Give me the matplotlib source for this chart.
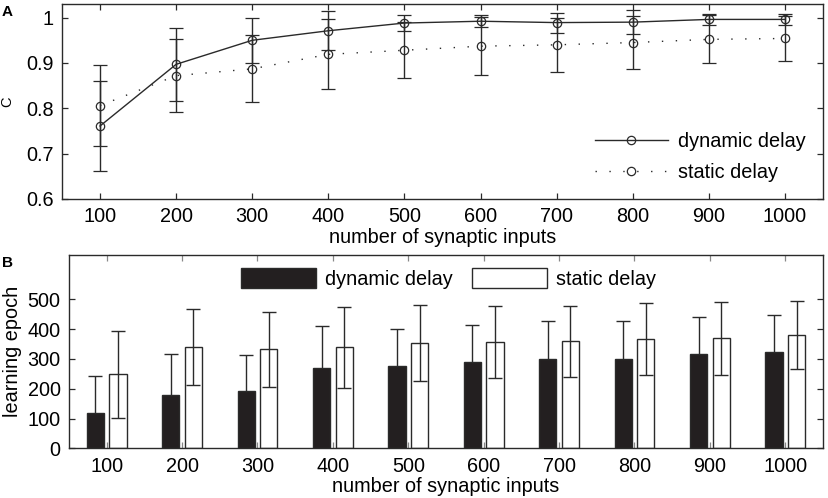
import matplotlib
matplotlib.use("Agg")
import matplotlib.pyplot as plt
import numpy as np

plt.rcParams['font.family'] = ['Liberation Sans', 'DejaVu Sans']
plt.rcParams['font.size'] = 14.3

# ---------------- data ----------------
inputs = [100, 200, 300, 400, 500, 600, 700, 800, 900, 1000]
xtick_labels = ['100', '200', '300', '400', '500', '600', '700', '800', '900', '1000']

# Panel A: coincidence measure C
c_dynamic = [0.761, 0.897, 0.950, 0.971, 0.988, 0.992, 0.989, 0.990, 0.996, 0.996]
c_dynamic_err = [0.100, 0.080, 0.049, 0.043, 0.017, 0.013, 0.022, 0.026, 0.013, 0.012]
c_static = [0.806, 0.872, 0.887, 0.919, 0.928, 0.937, 0.940, 0.945, 0.952, 0.954]
c_static_err = [0.089, 0.080, 0.074, 0.077, 0.062, 0.064, 0.060, 0.058, 0.053, 0.050]

# Panel B: learning epoch
ep_dynamic = [120, 179, 192, 268, 277, 289, 301, 299, 316, 323]
ep_dynamic_err = [122, 139, 122, 142, 124, 124, 126, 128, 125, 123]
ep_static = [248, 339, 332, 339, 354, 356, 359, 368, 369, 380]
ep_static_err = [147, 128, 127, 136, 128, 121, 120, 121, 122, 114]

labels = ['dynamic delay', 'static delay']

# ---------------- figure ----------------
W, H = 829, 498
fig = plt.figure(figsize=(W / 100, H / 100), dpi=100)

axA = fig.add_axes([62 / W, (H - 199) / H, (823 - 62) / W, 195 / H])
axB = fig.add_axes([69 / W, (H - 448.3) / H, (823 - 69) / W, (448.3 - 254.7) / H])

dark = '#2a2a2a'

def style_axes(ax):
    for s in ax.spines.values():
        s.set_color(dark)
        s.set_linewidth(1.0)
    ax.tick_params(direction='in', length=4.5, width=0.9, color=dark,
                   top=True, right=True, labelsize=14.3, pad=6)

# ---- Panel A ----
x = np.array(inputs)
axA.errorbar(x, c_dynamic, yerr=c_dynamic_err, color=dark, lw=1.0,
             marker='o', markersize=6, markerfacecolor='none',
             markeredgecolor=dark, markeredgewidth=0.9,
             capsize=5, elinewidth=1.0, capthick=1.0, label=labels[0])
axA.errorbar(x, c_static, yerr=c_static_err, color=dark, lw=1.0,
             linestyle=(0, (1, 9)),
             marker='o', markersize=6, markerfacecolor='none',
             markeredgecolor=dark, markeredgewidth=0.9,
             capsize=5, elinewidth=1.0, capthick=1.0, label=labels[1])
axA.set_xlim(50, 1050)
axA.set_ylim(0.6, 1.03)
axA.set_xticks(inputs)
axA.set_xticklabels(xtick_labels)
axA.set_yticks([0.6, 0.7, 0.8, 0.9, 1.0])
axA.set_yticklabels(['0.6', '0.7', '0.8', '0.9', '1'])
style_axes(axA)
axA.set_xlabel('number of synaptic inputs', labelpad=1)
axA.set_ylabel('C', fontsize=10.5)
axA.yaxis.set_label_coords(-(62 - 14) / 761, 0.5)

hA, lA = axA.get_legend_handles_labels()
hA = [h[0] for h in hA]
legA = axA.legend(hA, lA, loc='upper left', bbox_to_anchor=(0.700, 0.345),
                  frameon=False, borderpad=0, borderaxespad=0,
                  handlelength=3.7, handletextpad=0.5, labelspacing=0.62,
                  fontsize=14.3)

# ---- Panel B ----
off = 15
bw = 23
axB.bar(x - off, ep_dynamic, width=bw, color='#231f20', edgecolor=dark,
        linewidth=1.0, label=labels[0], zorder=2)
axB.bar(x + off, ep_static, width=bw, color='white', edgecolor=dark,
        linewidth=1.0, label=labels[1], zorder=2)
axB.errorbar(x - off, ep_dynamic, yerr=ep_dynamic_err, fmt='none',
             ecolor=dark, elinewidth=1.0, capsize=5, capthick=1.0, zorder=1)
axB.errorbar(x + off, ep_static, yerr=ep_static_err, fmt='none',
             ecolor=dark, elinewidth=1.0, capsize=5, capthick=1.0, zorder=3)
axB.set_xlim(50, 1050)
axB.set_ylim(0, 650)
axB.set_xticks(inputs)
axB.set_xticklabels(xtick_labels)
axB.set_yticks([0, 100, 200, 300, 400, 500])
style_axes(axB)
axB.tick_params(axis='x', color='#888888')
axB.set_xlabel('number of synaptic inputs', labelpad=1)
axB.set_ylabel('learning epoch', labelpad=4)

axB.legend(loc='upper left', bbox_to_anchor=(0.2277, 0.93), ncol=2,
           frameon=False, borderpad=0, borderaxespad=0,
           handlelength=3.8, handleheight=1.15, handletextpad=0.45,
           columnspacing=0.95, fontsize=14.3)

# Panel letters
fig.text(2 / W, 1 - 12 / H, 'A', fontsize=11, fontweight='bold', va='center', ha='left')
fig.text(2 / W, 1 - 263 / H, 'B', fontsize=11, fontweight='bold', va='center', ha='left')

fig.savefig('out.png', dpi=100)
